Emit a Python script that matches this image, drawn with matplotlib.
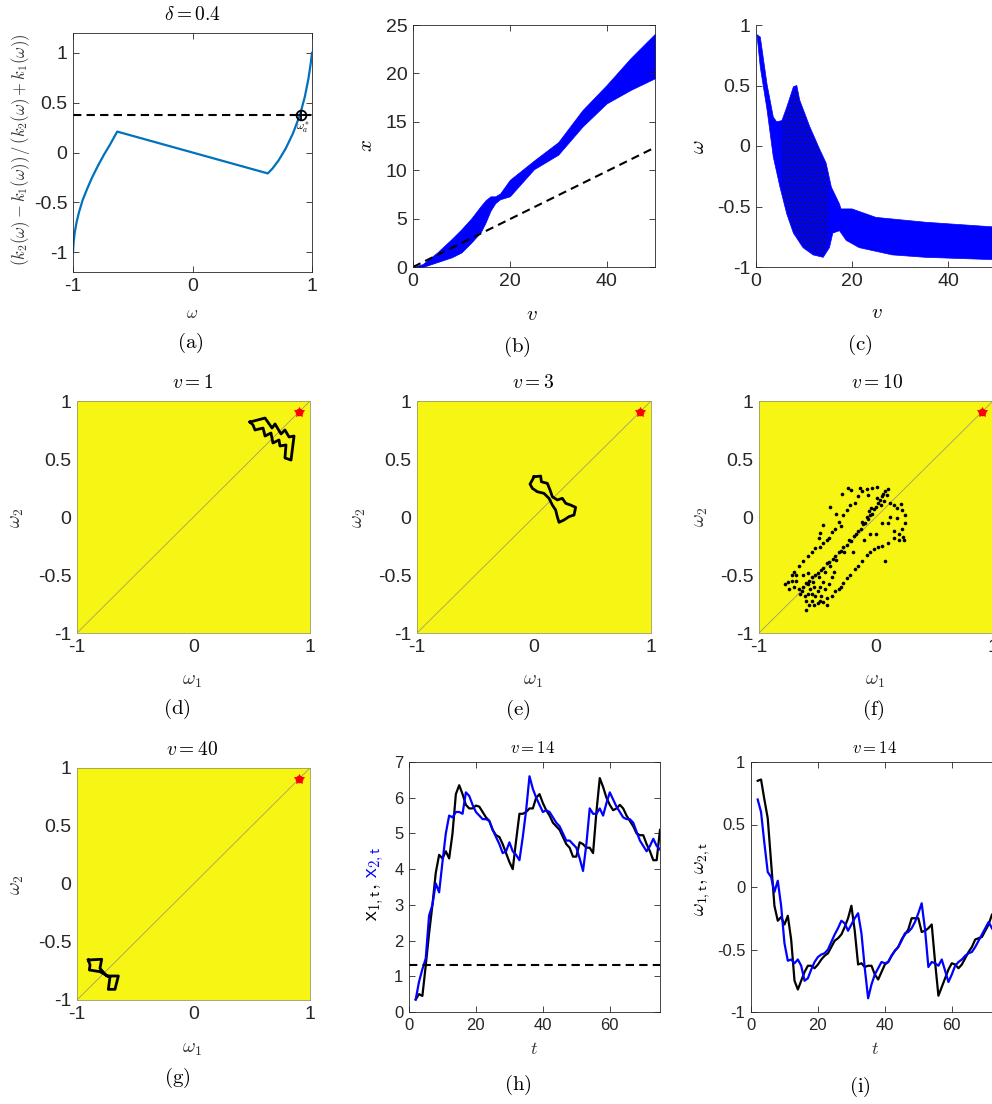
import matplotlib
matplotlib.use("Agg")
import matplotlib.pyplot as plt

plt.rcParams['font.family'] = ['Liberation Sans', 'DejaVu Sans']
plt.rcParams['mathtext.fontset'] = 'cm'
plt.rcParams['axes.unicode_minus'] = False
plt.rcParams['hatch.linewidth'] = 1.0

W, H = 992, 1104

# ---- (a) ratio curve ----
a_w_left = [-1, -0.995, -0.985, -0.97, -0.95, -0.92, -0.88, -0.84, -0.79, -0.74, -0.69, -0.63]
a_r_left = [-1, -0.9, -0.8, -0.7, -0.6, -0.48, -0.36, -0.25, -0.13, -0.02, 0.08, 0.21]
a_w_right = [0.63, 0.67, 0.72, 0.78, 0.84, 0.90, 0.94, 0.97, 0.99, 1.0]
a_r_right = [-0.21, -0.16, -0.08, 0.04, 0.19, 0.38, 0.56, 0.74, 0.9, 1.0]
delta_level = 0.38
w_star = 0.905

# ---- (b) x vs v band ----
b_v = [0, 2, 5, 8, 10, 12, 14, 15, 16, 17, 18, 20, 25, 30, 35, 40, 45, 50]
b_lo = [0, 0, 0.5, 1.0, 1.5, 2.5, 3.6, 4.6, 5.8, 6.6, 7.0, 7.3, 10.1, 11.6, 14.5, 16.9, 18.3, 19.5]
b_hi = [0, 0.3, 1.5, 2.9, 3.9, 5.0, 6.3, 6.9, 7.3, 7.3, 7.6, 9.0, 11.0, 12.9, 16.2, 18.8, 21.6, 24.1]
b_dash_v = [0, 50]
b_dash_x = [0, 12.35]

# ---- (c) omega vs v band ----
c_v_hi = [0.2, 0.9, 2.3, 3.6, 4.3, 5.4, 6.4, 7.8, 8.5, 9.1, 11.2, 13.3, 14.6, 15.7, 17.4, 17.7, 20, 25, 35.3, 50]
c_hi = [0.92, 0.90, 0.51, 0.24, 0.20, 0.21, 0.32, 0.49, 0.50, 0.38, 0.16, -0.03, -0.14, -0.34, -0.48, -0.52, -0.52, -0.59, -0.63, -0.67]
c_v_lo = [0.2, 0.9, 2.3, 3.6, 5.0, 6.4, 7.8, 9.8, 11.9, 14.0, 15.3, 16.0, 17.4, 18.8, 21.5, 28.4, 35.3, 50]
c_lo = [0.92, 0.65, 0.30, -0.09, -0.34, -0.56, -0.72, -0.84, -0.90, -0.92, -0.84, -0.72, -0.70, -0.78, -0.84, -0.90, -0.92, -0.94]
# darker speckled cloud inside the band
c_cloud_v = [5.4, 6.4, 7.8, 8.5, 9.1, 11.2, 13.3, 14.6, 15.0, 15.0, 14.0, 11.9, 9.8, 7.8, 6.4, 5.4]
c_cloud_w = [0.18, 0.30, 0.45, 0.47, 0.36, 0.14, -0.05, -0.16, -0.22, -0.80, -0.90, -0.88, -0.82, -0.70, -0.54, -0.38]

# ---- (d) (e) (g) orbits in the (w1, w2) plane ----
d_w1 = [0.485, 0.614, 0.674, 0.700, 0.751, 0.785, 0.820, 0.863, 0.837, 0.785, 0.794, 0.742,
        0.734, 0.682, 0.665, 0.614, 0.597, 0.528, 0.511, 0.485]
d_w2 = [0.819, 0.853, 0.767, 0.802, 0.716, 0.750, 0.690, 0.698, 0.491, 0.509, 0.621, 0.612,
        0.664, 0.638, 0.724, 0.698, 0.767, 0.750, 0.793, 0.819]
e_w1 = [0.0, 0.057, 0.063, 0.114, 0.137, 0.157, 0.199, 0.242, 0.271, 0.313, 0.356, 0.342,
        0.299, 0.256, 0.214, 0.199, 0.185, 0.157, 0.128, 0.085, 0.028, -0.014, -0.034, -0.014, 0.0]
e_w2 = [0.347, 0.353, 0.304, 0.290, 0.233, 0.175, 0.147, 0.161, 0.118, 0.103, 0.083, 0.017,
        0.003, -0.026, -0.046, 0.003, 0.060, 0.103, 0.161, 0.204, 0.218, 0.247, 0.284, 0.319, 0.347]
g_w1 = [-0.903, -0.788, -0.803, -0.745, -0.645, -0.674, -0.731, -0.717, -0.803, -0.894, -0.888, -0.903]
g_w2 = [-0.655, -0.649, -0.727, -0.793, -0.793, -0.908, -0.908, -0.804, -0.756, -0.741, -0.698, -0.655]

# ---- (f) scattered states at v = 10 ----
f_w1 = [-0.62, -0.60, -0.58, -0.57, -0.55, -0.54, -0.52, -0.50, -0.49, -0.47, -0.45, -0.44, -0.42,
        -0.40, -0.39, -0.37, -0.35, -0.34, -0.32, -0.30, -0.28, -0.27, -0.25, -0.23, -0.21, -0.19,
        -0.17, -0.15, -0.13, -0.11, -0.09, -0.07, -0.05, -0.03, -0.02, 0.00, 0.02, 0.03, 0.05, 0.06,
        0.08, 0.09, 0.10, 0.04, -0.04, -0.08, -0.12, -0.06, 0.01, 0.07,
        -0.75, -0.72, -0.70, -0.66, -0.62, -0.58, -0.55, -0.52, -0.48, -0.45, -0.42, -0.38, -0.35,
        -0.32, -0.28, -0.25, -0.22, -0.18, -0.15, -0.12, -0.08, -0.03, -0.30, -0.40,
        -0.24, -0.21, -0.29, -0.14, -0.07, 0.01, -0.39, -0.34, -0.45, -0.48, -0.49,
        -0.55, -0.50, -0.45, -0.42, -0.38, -0.35, -0.32, -0.30, -0.28, -0.25, -0.22, -0.18, -0.15,
        -0.12, -0.08, -0.05, -0.02, 0.02, 0.05, 0.10, 0.15, 0.20, 0.22, 0.25, 0.25, 0.22, 0.18,
        0.15, 0.12, 0.20, 0.24, 0.23,
        0.05, 0.00, -0.10, 0.10, 0.15, 0.12, -0.05, 0.08, -0.20, 0.18, 0.21,
        -0.78, -0.74, -0.70, -0.68, -0.66, -0.65, -0.63, -0.61, -0.60, -0.58, -0.56, -0.55, -0.53,
        -0.52, -0.50, -0.48, -0.47, -0.45, -0.62, -0.58, -0.68, -0.72, -0.60, -0.57, -0.53, -0.42,
        -0.48, -0.44, -0.40, -0.38, -0.36]
f_w2 = [-0.60, -0.57, -0.58, -0.55, -0.52, -0.56, -0.50, -0.48, -0.52, -0.46, -0.44, -0.47, -0.40,
        -0.39, -0.42, -0.36, -0.34, -0.37, -0.30, -0.29, -0.26, -0.30, -0.24, -0.20, -0.21, -0.16,
        -0.15, -0.12, -0.10, -0.06, -0.05, -0.02, 0.02, 0.03, 0.07, 0.09, 0.12, 0.15, 0.18, 0.20,
        0.22, 0.19, 0.24, 0.10, 0.08, 0.00, -0.04, 0.05, 0.16, 0.14,
        -0.56, -0.50, -0.47, -0.42, -0.38, -0.34, -0.30, -0.27, -0.26, -0.22, -0.20, -0.13, -0.10,
        -0.04, 0.02, 0.06, 0.10, 0.12, 0.18, 0.22, 0.24, 0.25, -0.08, -0.18,
        0.25, 0.23, 0.20, 0.25, 0.19, 0.26, 0.09, 0.03, -0.07, -0.14, -0.18,
        -0.72, -0.74, -0.73, -0.70, -0.68, -0.64, -0.62, -0.60, -0.57, -0.53, -0.50, -0.45, -0.42,
        -0.38, -0.33, -0.30, -0.28, -0.26, -0.25, -0.22, -0.18, -0.15, -0.10, -0.05, 0.02, 0.06,
        0.08, 0.10, 0.12, -0.20, -0.20, -0.17,
        -0.05, -0.15, -0.20, -0.05, -0.12, 0.00, -0.15, -0.38, -0.30, -0.01, 0.11,
        -0.58, -0.62, -0.60, -0.55, -0.62, -0.66, -0.64, -0.68, -0.72, -0.66, -0.62, -0.66, -0.60,
        -0.68, -0.64, -0.60, -0.68, -0.56, -0.50, -0.48, -0.50, -0.55, -0.80, -0.76, -0.76, -0.76,
        -0.72, -0.62, -0.58, -0.52, -0.47]

# ---- (h) (i) time series at v = 14 ----
t = list(range(2, 76))
h_x1 = [0.35, 0.5, 0.45, 1.3, 2.2, 3.0, 3.9, 4.4, 4.3, 4.5,
        4.3, 5.0, 6.1, 6.35, 6.1, 5.8, 5.7, 5.7, 5.78, 5.75,
        5.6, 5.45, 5.35, 5.1, 4.95, 4.9, 4.7, 4.45, 4.2, 4.0,
        4.8, 5.55, 5.55, 5.6, 5.7, 5.7, 6.0, 6.1, 5.85, 5.65,
        5.5, 5.3, 5.2, 5.1, 4.9, 4.7, 4.6, 4.35, 4.35, 4.75,
        4.7, 4.6, 4.6, 4.45, 5.6, 6.55, 6.3, 6.0, 5.8, 5.65,
        5.7, 5.8, 5.7, 5.5, 5.35, 5.2, 5.0, 4.95, 4.95, 4.7,
        4.5, 4.25, 4.25, 5.1]
h_x2 = [0.35, 0.85, 1.2, 1.5, 2.7, 3.0, 3.6, 3.35, 4.2, 5.0,
        5.5, 5.45, 5.6, 5.6, 5.55, 6.15, 6.05, 5.8, 5.6, 5.5,
        5.4, 5.4, 5.35, 5.1, 4.9, 4.7, 4.45, 4.5, 4.75, 4.5,
        4.4, 4.25, 4.9, 5.65, 6.6, 6.25, 6.0, 5.8, 5.6, 5.65,
        5.6, 5.45, 5.3, 5.2, 5.0, 4.8, 4.8, 4.7, 4.6, 4.3,
        3.95, 4.7, 5.7, 5.55, 5.55, 5.7, 5.5, 5.85, 6.15, 5.95,
        5.75, 5.6, 5.45, 5.4, 5.4, 5.3, 5.05, 4.8, 4.65, 4.5,
        4.65, 4.85, 4.65, 4.55]
h_level = 1.33
i_w1 = [0.85, 0.86, 0.7, 0.55, 0.2, -0.15, -0.27, -0.24, -0.3, -0.23,
        -0.42, -0.75, -0.82, -0.75, -0.68, -0.63, -0.63, -0.65, -0.62, -0.58,
        -0.55, -0.53, -0.48, -0.43, -0.41, -0.38, -0.32, -0.25, -0.15, -0.35,
        -0.62, -0.61, -0.64, -0.63, -0.63, -0.7, -0.74, -0.68, -0.62, -0.6,
        -0.55, -0.51, -0.48, -0.42, -0.38, -0.34, -0.25, -0.25, -0.25, -0.36,
        -0.35, -0.33, -0.3, -0.6, -0.87, -0.8, -0.73, -0.66, -0.61, -0.62,
        -0.65, -0.62, -0.57, -0.52, -0.48, -0.42, -0.41, -0.4, -0.35, -0.3,
        -0.22, -0.2, -0.18, -0.15]
i_w2 = [0.7, 0.6, 0.35, 0.12, 0.08, -0.04, 0.05, -0.15, -0.45, -0.59,
        -0.58, -0.61, -0.58, -0.63, -0.75, -0.73, -0.66, -0.6, -0.56, -0.54,
        -0.53, -0.5, -0.44, -0.38, -0.33, -0.27, -0.29, -0.35, -0.3, -0.25,
        -0.21, -0.37, -0.65, -0.89, -0.78, -0.7, -0.65, -0.6, -0.61, -0.6,
        -0.55, -0.51, -0.48, -0.43, -0.37, -0.36, -0.33, -0.28, -0.21, -0.13,
        -0.34, -0.64, -0.6, -0.61, -0.63, -0.58, -0.67, -0.76, -0.7, -0.63,
        -0.6, -0.58, -0.55, -0.53, -0.52, -0.48, -0.43, -0.38, -0.33, -0.28,
        -0.33, -0.37, -0.4, -0.42]

TXT = '#262626'
YELLOW = '#f6f514'
BLUE = '#0000ff'

fig = plt.figure(figsize=(W / 100, H / 100), dpi=100)


def axes_px(l, t_, r, b):
    return fig.add_axes([l / W, 1 - b / H, (r - l) / W, (b - t_) / H])


def text_px(x, y, s, size=13, rot=0, color='black', **kw):
    fig.text(x / W, 1 - y / H, s, ha='center', va='center', fontsize=size,
             rotation=rot, color=color, **kw)


def style(ax, size, box=True, ticklen=4):
    for side in ['top', 'right']:
        ax.spines[side].set_visible(box)
    for sp in ax.spines.values():
        sp.set_color(TXT)
        sp.set_linewidth(0.6)
    ax.tick_params(direction='in', length=ticklen, width=0.6, colors=TXT,
                   labelsize=size, top=box, right=box, pad=4)


def fmt(v):
    return '%g' % v


# (a)
ax = axes_px(73, 33, 312, 272)
ax.plot(a_w_left + a_w_right, a_r_left + a_r_right, color='#0072BD', lw=1.6)
ax.axhline(delta_level, color='black', ls='--', lw=1.5, dashes=(4, 2.5))
ax.plot([w_star], [delta_level], 'o', mfc='none', mec='black', ms=7, mew=1.3)
ax.plot([w_star], [delta_level], '+', color='black', ms=7, mew=1.3)
ax.text(w_star + 0.02, delta_level - 0.13, r'$\omega_a^*$', fontsize=8, ha='center', va='center')
ax.set_xlim(-1, 1)
ax.set_ylim(-1.2, 1.2)
ax.set_xticks([-1, 0, 1])
ax.set_yticks([-1, -0.5, 0, 0.5, 1])
ax.set_xticklabels([fmt(v) for v in [-1, 0, 1]])
ax.set_yticklabels([fmt(v) for v in [-1, -0.5, 0, 0.5, 1]])
style(ax, 14)

# (b)
ax = axes_px(413, 25, 655, 267)
ax.fill_between(b_v, b_lo, b_hi, color=BLUE, lw=0.5, edgecolor=BLUE)
ax.plot(b_dash_v, b_dash_x, color='black', ls='--', lw=1.5, dashes=(4, 2.5))
ax.set_xlim(0, 50)
ax.set_ylim(0, 25)
ax.set_xticks([0, 20, 40])
ax.set_yticks([0, 5, 10, 15, 20, 25])
style(ax, 14)

# (c)
ax = axes_px(756, 25, 996, 267)
ax.fill(c_v_hi + c_v_lo[::-1], c_hi + c_lo[::-1], color=BLUE, lw=0.5)
ax.fill(c_cloud_v, c_cloud_w, facecolor='none', edgecolor='#101060', hatch='.....', lw=0)
ax.set_xlim(0, 50)
ax.set_ylim(-1, 1)
ax.set_xticks([0, 20, 40])
ax.set_yticks([-1, -0.5, 0, 0.5, 1])
ax.set_yticklabels([fmt(v) for v in [-1, -0.5, 0, 0.5, 1]])
style(ax, 14, box=False)


def phase(pos, w1=None, w2=None, dots=False):
    ax = axes_px(*pos)
    ax.set_facecolor(YELLOW)
    ax.plot([-1, 1], [-1, 1], color='#a09f6a', lw=0.6)
    if dots:
        ax.plot(w1, w2, 'o', color='black', ms=2.6, mew=0)
    else:
        ax.plot(w1, w2, color='black', lw=2)
    ax.plot([w_star], [w_star], 'o', color='red', ms=5.5, mew=0)
    ax.plot([w_star], [w_star], '*', color='red', ms=7, mew=0.6, mec='red')
    ax.set_xlim(-1, 1)
    ax.set_ylim(-1, 1)
    ax.set_xticks([-1, 0, 1])
    ax.set_yticks([-1, -0.5, 0, 0.5, 1])
    ax.set_xticklabels([fmt(v) for v in [-1, 0, 1]])
    ax.set_yticklabels([fmt(v) for v in [-1, -0.5, 0, 0.5, 1]])
    style(ax, 14, ticklen=0)
    for sp in ax.spines.values():
        sp.set_color('#9a9a60')
    return ax


phase((77, 401, 310, 633), d_w1, d_w2)
phase((417, 401, 651, 633), e_w1, e_w2)
phase((759, 401, 993, 633), f_w1, f_w2, dots=True)
phase((77, 768, 310, 1000), g_w1, g_w2)

# (h)
ax = axes_px(409, 762, 660, 1012)
ax.plot(t, h_x1, color='black', lw=1.6)
ax.plot(t, h_x2, color=BLUE, lw=1.6)
ax.axhline(h_level, color='black', ls='--', lw=1.5, dashes=(4, 2.5))
ax.set_xlim(0, 75)
ax.set_ylim(0, 7)
ax.set_xticks([0, 20, 40, 60])
ax.set_yticks(range(0, 8))
style(ax, 12)

# (i)
ax = axes_px(751, 762, 1002, 1012)
ax.plot(t, i_w1, color='black', lw=1.6)
ax.plot(t, i_w2, color=BLUE, lw=1.6)
ax.set_xlim(0, 75)
ax.set_ylim(-1, 1)
ax.set_xticks([0, 20, 40, 60])
ax.set_yticks([-1, -0.5, 0, 0.5, 1])
ax.set_yticklabels([fmt(v) for v in [-1, -0.5, 0, 0.5, 1]])
style(ax, 12)

# titles
text_px(192, 15, r'$\delta = 0.4$', 14)
text_px(193, 383, r'$v = 1$', 14)
text_px(533, 383, r'$v = 3$', 14)
text_px(877, 383, r'$v = 10$', 14)
text_px(192, 750, r'$v = 40$', 14)
text_px(533, 748, r'$v = 14$', 12)
text_px(875, 748, r'$v = 14$', 12)

# axis labels
text_px(192, 313, r'$\omega$', 12, color='#333333')
text_px(532, 314, r'$v$', 15)
text_px(877, 313, r'$v$', 15)
text_px(21, 150, r'$(k_2(\omega)-k_1(\omega))\,/\,(k_2(\omega)+k_1(\omega))$', 12, rot=90, color='#333333')
text_px(366, 145, r'$x$', 15, rot=90)
text_px(698, 147, r'$\omega$', 15, rot=90)
for x0, y0 in [(192, 682), (533, 682), (875, 682), (192, 1050)]:
    text_px(x0, y0, r'$\omega_1$', 14, color='#333333')
for x0, y0 in [(17, 518), (360, 518), (702, 517), (17, 885)]:
    text_px(x0, y0, r'$\omega_2$', 14, rot=90, color='#333333')
text_px(534, 1050, r'$t$', 13, color='#333333')
text_px(875, 1050, r'$t$', 13, color='#333333')
text_px(376, 902, r'$\mathsf{x_{1,t},}$', 15, rot=90)
text_px(376, 862, r'$\mathsf{x_{2,t}}$', 15, rot=90, color=BLUE)
text_px(703, 879, r'$\omega_{\mathsf{1,t}},\,\omega_{\mathsf{2,t}}$', 14, rot=90)

# panel captions
for x0, y0, s in [(190, 343, 'a'), (517, 347, 'b'), (860, 345, 'c'),
                  (177, 709, 'd'), (518, 710, 'e'), (873, 710, 'f'),
                  (177, 1078, 'g'), (518, 1085, 'h'), (860, 1087, 'i')]:
    text_px(x0, y0, r'$\mathrm{(%s)}$' % s, 15)

fig.savefig('out.png', dpi=100)
